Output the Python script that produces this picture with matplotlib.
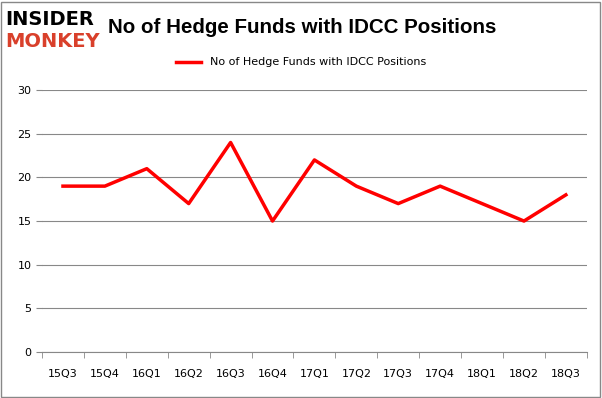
import matplotlib.pyplot as plt
from matplotlib.patches import Rectangle
import numpy as np

quarters = ['15Q3', '15Q4', '16Q1', '16Q2', '16Q3', '16Q4', '17Q1',
            '17Q2', '17Q3', '17Q4', '18Q1', '18Q2', '18Q3']
funds = [19, 19, 21, 17, 24, 15, 22, 19, 17, 19, 17, 15, 18]
yticks = [0, 5, 10, 15, 20, 25, 30]

fig = plt.figure(figsize=(6.02, 3.98), dpi=100)
ax = fig.add_axes([0.0698, 0.1156, 0.905, 0.658])

x = np.arange(len(quarters))
ax.plot(x, funds, color='#ff0000', lw=2.5, label='No of Hedge Funds with IDCC Positions')

ax.set_xlim(-0.5, len(quarters) - 0.5)
ax.set_ylim(0, 30)
ax.set_yticks(yticks)
ax.grid(axis='y', color='#888888', lw=0.8)
ax.set_axisbelow(True)
ax.set_xticks(x)
ax.set_xticklabels(quarters, fontsize=8)
ax.set_xticks(np.arange(-0.5, len(quarters)), minor=True)
ax.tick_params(axis='x', which='major', length=0, pad=12)
ax.tick_params(axis='x', which='minor', length=4, color='#888888')
ax.tick_params(axis='y', length=4, color='#888888', labelsize=8)
for s in ['top', 'right', 'left']:
    ax.spines[s].set_visible(False)
ax.spines['bottom'].set_color('#888888')

fig.legend(loc='center', bbox_to_anchor=(0.5, 0.843), frameon=False, fontsize=8,
           handlelength=2.2)

# titel + logo
fig.text(0.18, 0.932, 'No of Hedge Funds with IDCC Positions', fontsize=14.8,
         fontweight='bold', family='Liberation Sans', va='center', ha='left')
fig.text(0.008, 0.950, 'INSIDER', fontsize=14, fontweight='heavy', color='black',
         va='center', ha='left')
fig.text(0.008, 0.895, 'MONKEY', fontsize=14, fontweight='heavy', color='#d9402b',
         va='center', ha='left')

fig.patches.append(Rectangle((0.002, 0.003), 0.995, 0.993, transform=fig.transFigure,
                             fill=False, edgecolor='#888888', lw=1))

fig.savefig('out.png', dpi=100)
